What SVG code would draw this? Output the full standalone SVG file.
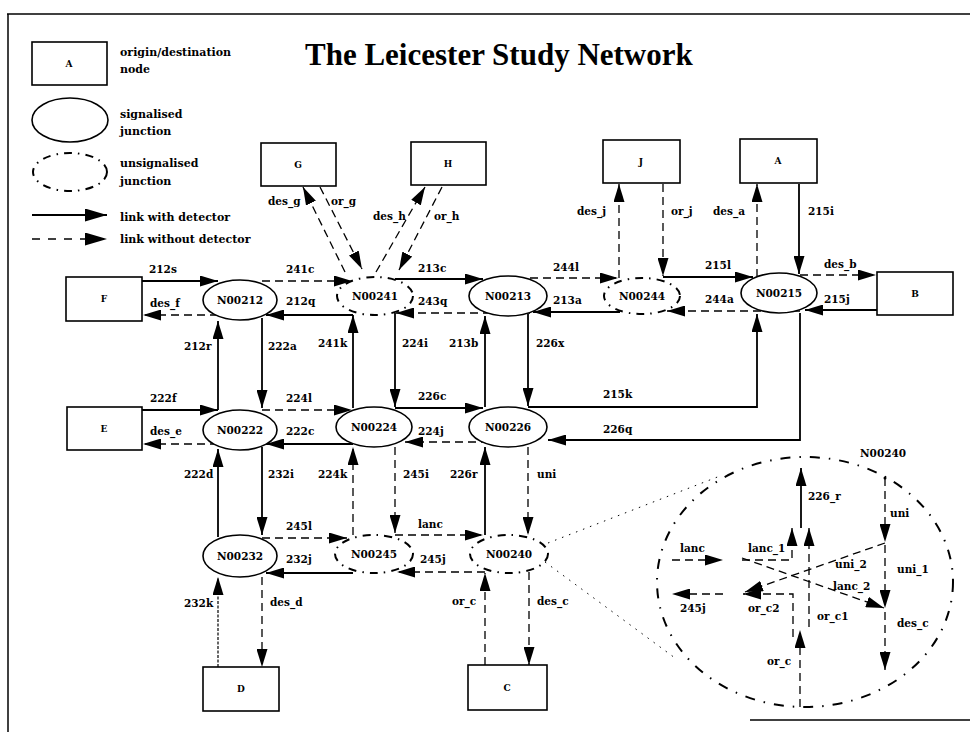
<svg xmlns="http://www.w3.org/2000/svg" width="970" height="732" viewBox="0 0 970 732">
<defs>
<marker id="ah" markerUnits="userSpaceOnUse" markerWidth="18" markerHeight="11" refX="18" refY="5.5" orient="auto"><path d="M0,0 L18,5.5 L0,11 z" fill="#000"/></marker>
<marker id="ahL" markerUnits="userSpaceOnUse" markerWidth="22" markerHeight="13" refX="22" refY="6.5" orient="auto"><path d="M0,0 L22,6.5 L0,13 z" fill="#000"/></marker>
</defs>
<style>
.s{stroke:#000;stroke-width:1.8;fill:none;marker-end:url(#ah)}
.d{stroke:#000;stroke-width:1.3;fill:none;stroke-dasharray:8 5;marker-end:url(#ah)}
.fd{stroke:#000;stroke-width:1.2;fill:none;stroke-dasharray:3 1.5;marker-end:url(#ah)}
.box{fill:#fff;stroke:#000;stroke-width:1.6}
.sig{fill:#fff;stroke:#000;stroke-width:1.6}
.uns{fill:none;stroke:#000;stroke-width:2;stroke-dasharray:8 6 1.5 6}
.dot{fill:none;stroke:#000;stroke-width:1;stroke-dasharray:1.5 6}
text{font-family:"DejaVu Serif","Liberation Serif",serif;font-weight:bold;fill:#000}
.l{font-size:10.5px}
.n{font-size:10.5px;text-anchor:middle}
.b{font-size:9px;text-anchor:middle}
.lg{font-size:11px}
.t{font-family:"Liberation Serif","Times New Roman",serif;font-size:31px}
</style>
<rect width="970" height="732" fill="#fff"/>
<g id="frame" stroke="#000" stroke-width="1.5" fill="none">
<path d="M7,14 H970"/><path d="M8,14 V732"/><path d="M750,720 H970"/>
</g>
<text class="t" x="305" y="65">The Leicester Study Network</text>
<g id="legend">
<rect class="box" x="32" y="42" width="75" height="43"/><text class="b" x="69" y="67">A</text>
<text class="lg" x="120" y="56">origin/destination</text><text class="lg" x="120" y="73">node</text>
<ellipse class="sig" cx="70" cy="120" rx="38" ry="22"/>
<text class="lg" x="120" y="118">signalised</text><text class="lg" x="120" y="135">junction</text>
<ellipse class="uns" cx="70" cy="172" rx="37" ry="19"/>
<text class="lg" x="120" y="167">unsignalised</text><text class="lg" x="120" y="185">junction</text>
<path d="M32,215 H107" stroke="#000" stroke-width="1.8" marker-end="url(#ahL)"/>
<text class="lg" x="120" y="221">link with detector</text>
<path d="M32,239 H107" stroke="#000" stroke-width="1.4" stroke-dasharray="8 8" marker-end="url(#ahL)"/>
<text class="lg" x="120" y="243">link without detector</text>
</g>
<g id="connectors">
<path class="s" d="M142,281 H218"/>
<path class="d" d="M218,315 H143"/>
<path class="d" d="M262,281 H352"/>
<path class="s" d="M353,315 H266"/>
<path class="s" d="M218,410 V321"/>
<path class="s" d="M262,318 V408"/>
<path class="s" d="M395,279 H483"/>
<path class="d" d="M530,313 H396"/>
<path class="s" d="M353,408 V315"/>
<path class="s" d="M395,313 V407"/>
<path class="d" d="M345,272 L303,187"/>
<path class="d" d="M320,187 L362,269"/>
<path class="d" d="M376,272 L425,187"/>
<path class="d" d="M442,187 L399,270"/>
<path class="d" d="M530,278 H618"/>
<path class="s" d="M620,312 H533"/>
<path class="s" d="M485,407 V316"/>
<path class="s" d="M528,314 V406"/>
<path class="d" d="M619,278 V184"/>
<path class="d" d="M663,184 V276"/>
<path class="s" d="M663,277 H753"/>
<path class="d" d="M800,311 H667"/>
<path class="d" d="M757,277 V184"/>
<path class="s" d="M799,184 V274"/>
<path class="d" d="M800,275 H876"/>
<path class="s" d="M877,310 H805"/>
<path class="s" d="M528,407 H757 V314"/>
<path class="s" d="M800,313 V440 H548"/>
<path class="s" d="M142,410 H218"/>
<path class="d" d="M218,444 H143"/>
<path class="d" d="M262,410 H352"/>
<path class="s" d="M353,444 H266"/>
<path class="s" d="M218,537 V449"/>
<path class="s" d="M262,447 V535"/>
<path class="s" d="M395,408 H483"/>
<path class="d" d="M528,442 H405"/>
<path class="d" d="M353,535 V447"/>
<path class="d" d="M395,447 V533"/>
<path class="s" d="M485,535 V447"/>
<path class="d" d="M528,447 V535"/>
<path class="d" d="M262,538 H347"/>
<path class="s" d="M353,573 H266"/>
<path class="fd" d="M218,667 V577"/>
<path class="d" d="M262,577 V667"/>
<path class="d" d="M395,535 H483"/>
<path class="d" d="M485,572 H397"/>
<path class="d" d="M485,665 V573"/>
<path class="d" d="M529,572 V665"/>
<path class="dot" d="M548,543 L720,476"/>
<path class="dot" d="M545,562 L675,658"/>
<path class="s" d="M801,528 V468"/>
<path class="d" d="M885,478 V542"/>
<path class="d" d="M672,560 H723"/>
<path class="d" d="M742,560 H792 V528"/>
<path class="d" d="M809,627 V528"/>
<path class="d" d="M800,707 V630"/>
<path class="d" d="M793,637 V594 H743"/>
<path class="d" d="M723,594 H672"/>
<path class="d" d="M885,545 V608"/>
<path class="d" d="M885,543 L745,592"/>
<path class="d" d="M742,558 L884,608"/>
<path class="d" d="M885,612 V670"/>
</g>
<g id="link-labels">
<text class="l" x="149" y="273">212s</text>
<text class="l" x="150" y="307">des_f</text>
<text class="l" x="286" y="273">241c</text>
<text class="l" x="286" y="305">212q</text>
<text class="l" x="184" y="350">212r</text>
<text class="l" x="268" y="350">222a</text>
<text class="l" x="318" y="347">241k</text>
<text class="l" x="402" y="347">224i</text>
<text class="l" x="449" y="347">213b</text>
<text class="l" x="536" y="347">226x</text>
<text class="l" x="418" y="272">213c</text>
<text class="l" x="418" y="305">243q</text>
<text class="l" x="553" y="271">244l</text>
<text class="l" x="553" y="304">213a</text>
<text class="l" x="705" y="269">215l</text>
<text class="l" x="705" y="303">244a</text>
<text class="l" x="824" y="268">des_b</text>
<text class="l" x="824" y="303">215j</text>
<text class="l" x="268" y="205">des_g</text>
<text class="l" x="331" y="205">or_g</text>
<text class="l" x="373" y="220">des_h</text>
<text class="l" x="434" y="220">or_h</text>
<text class="l" x="577" y="215">des_j</text>
<text class="l" x="671" y="215">or_j</text>
<text class="l" x="713" y="215">des_a</text>
<text class="l" x="808" y="215">215i</text>
<text class="l" x="150" y="402">222f</text>
<text class="l" x="150" y="435">des_e</text>
<text class="l" x="286" y="402">224l</text>
<text class="l" x="286" y="435">222c</text>
<text class="l" x="418" y="400">226c</text>
<text class="l" x="418" y="435">224j</text>
<text class="l" x="603" y="398">215k</text>
<text class="l" x="603" y="433">226q</text>
<text class="l" x="184" y="478">222d</text>
<text class="l" x="268" y="478">232i</text>
<text class="l" x="318" y="478">224k</text>
<text class="l" x="403" y="478">245i</text>
<text class="l" x="450" y="478">226r</text>
<text class="l" x="537" y="478">uni</text>
<text class="l" x="286" y="530">245l</text>
<text class="l" x="286" y="563">232j</text>
<text class="l" x="418" y="528">lanc</text>
<text class="l" x="420" y="563">245j</text>
<text class="l" x="184" y="607">232k</text>
<text class="l" x="270" y="606">des_d</text>
<text class="l" x="452" y="605">or_c</text>
<text class="l" x="537" y="605">des_c</text>
<text class="l" x="808" y="500">226_r</text>
<text class="l" x="890" y="517">uni</text>
<text class="l" x="680" y="552">lanc</text>
<text class="l" x="748" y="552">lanc_1</text>
<text class="l" x="835" y="568">uni_2</text>
<text class="l" x="897" y="573">uni_1</text>
<text class="l" x="833" y="590">lanc_2</text>
<text class="l" x="680" y="612">245j</text>
<text class="l" x="748" y="612">or_c2</text>
<text class="l" x="817" y="620">or_c1</text>
<text class="l" x="897" y="627">des_c</text>
<text class="l" x="767" y="665">or_c</text>
</g>
<g id="G"><rect class="box" x="261" y="143" width="75" height="43"/><text class="b" x="298" y="168">G</text></g>
<g id="H"><rect class="box" x="411" y="142" width="75" height="43"/><text class="b" x="448" y="167">H</text></g>
<g id="J"><rect class="box" x="603" y="140" width="77" height="43"/><text class="b" x="641" y="165">J</text></g>
<g id="A"><rect class="box" x="740" y="139" width="77" height="44"/><text class="b" x="778" y="164">A</text></g>
<g id="F"><rect class="box" x="66" y="277" width="76" height="44"/><text class="b" x="104" y="302">F</text></g>
<g id="E"><rect class="box" x="67" y="407" width="75" height="43"/><text class="b" x="104" y="432">E</text></g>
<g id="B"><rect class="box" x="877" y="272" width="76" height="43"/><text class="b" x="915" y="297">B</text></g>
<g id="D"><rect class="box" x="203" y="667" width="76" height="44"/><text class="b" x="241" y="692">D</text></g>
<g id="C"><rect class="box" x="468" y="665" width="79" height="45"/><text class="b" x="507" y="691">C</text></g>
<g id="N00212"><ellipse class="sig" cx="240" cy="300" rx="37" ry="20"/><text class="n" x="240" y="304">N00212</text></g>
<g id="N00222"><ellipse class="sig" cx="240" cy="430" rx="37" ry="20"/><text class="n" x="240" y="434">N00222</text></g>
<g id="N00232"><ellipse class="sig" cx="240" cy="556" rx="37" ry="21"/><text class="n" x="240" y="560">N00232</text></g>
<g id="N00241"><ellipse class="uns" cx="375" cy="296" rx="38" ry="19"/><text class="n" x="375" y="300">N00241</text></g>
<g id="N00224"><ellipse class="sig" cx="374" cy="427" rx="38" ry="20"/><text class="n" x="374" y="431">N00224</text></g>
<g id="N00245"><ellipse class="uns" cx="374" cy="554" rx="39" ry="19"/><text class="n" x="374" y="558">N00245</text></g>
<g id="N00213"><ellipse class="sig" cx="508" cy="296" rx="39" ry="20"/><text class="n" x="508" y="300">N00213</text></g>
<g id="N00226"><ellipse class="sig" cx="508" cy="427" rx="39" ry="20"/><text class="n" x="508" y="431">N00226</text></g>
<g id="N00240"><ellipse class="uns" cx="509" cy="554" rx="39" ry="19"/><text class="n" x="509" y="558">N00240</text></g>
<g id="N00244"><ellipse class="uns" cx="642" cy="296" rx="38" ry="18"/><text class="n" x="642" y="300">N00244</text></g>
<g id="N00215"><ellipse class="sig" cx="779" cy="293" rx="38" ry="20"/><text class="n" x="779" y="297">N00215</text></g>
<g id="N00240-detail"><ellipse fill="none" stroke="#000" stroke-width="2" stroke-dasharray="10 9 1.5 9" cx="805" cy="582" rx="148" ry="125"/><circle cx="885" cy="478" r="1.5" fill="#000"/><text class="l" x="860" y="457">N00240</text></g>
</svg>
